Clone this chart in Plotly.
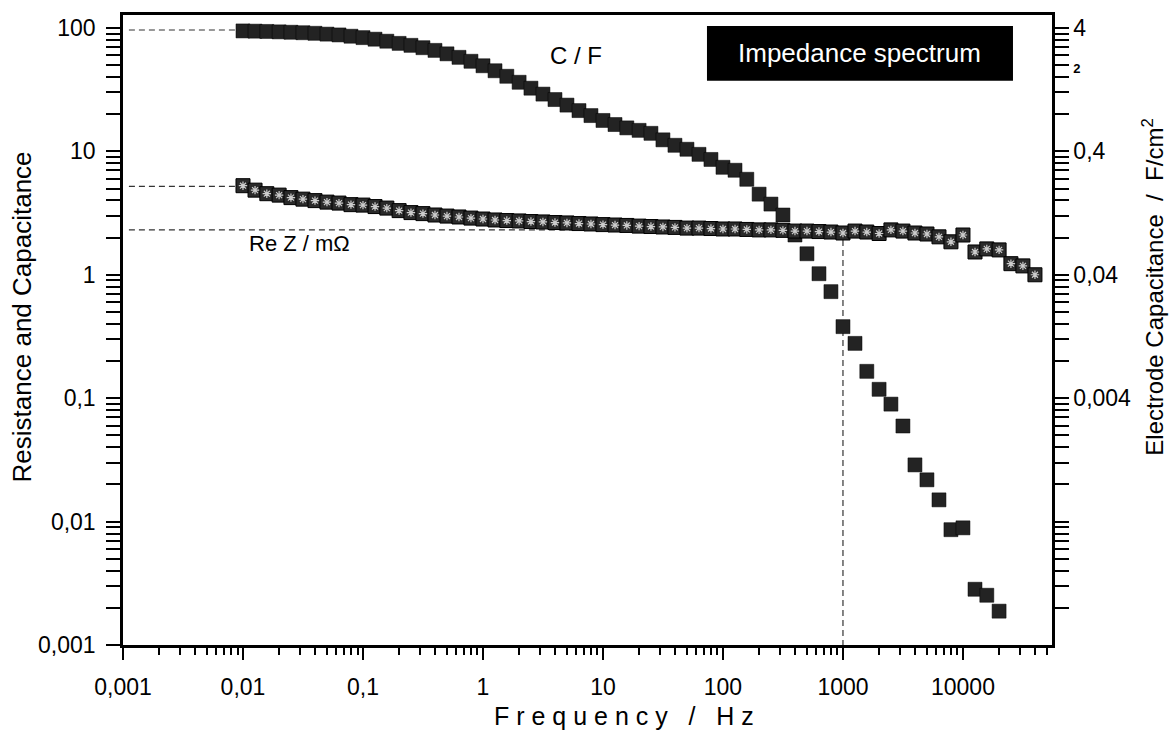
import math
import plotly.graph_objects as go

# ---------------- data ----------------
freq_hz = [0.01, 0.0126, 0.0158, 0.02, 0.0251, 0.0316, 0.0398, 0.0501, 0.0631, 0.0794,
           0.1, 0.126, 0.158, 0.2, 0.251, 0.316, 0.398, 0.501, 0.631, 0.794,
           1, 1.26, 1.58, 2, 2.51, 3.16, 3.98, 5.01, 6.31, 7.94,
           10, 12.6, 15.8, 20, 25.1, 31.6, 39.8, 50.1, 63.1, 79.4,
           100, 126, 158, 200, 251, 316, 398, 501, 631, 794,
           1000, 1260, 1580, 2000, 2510, 3160, 3980, 5010, 6310, 7940,
           10000, 12600, 15800, 20000, 25100, 31600, 39800]

cap_F = [94.6, 94.2, 93.7, 93.0, 92.3, 91.5, 90.5, 89.1, 87.8, 85.7,
         83.5, 81.1, 78.1, 75.0, 72.3, 69.2, 65.8, 61.7, 57.8, 53.7,
         49.4, 45.0, 40.6, 36.3, 32.5, 29.1, 26.3, 23.7, 21.4, 19.5,
         17.8, 16.5, 15.5, 14.8, 14.0, 12.4, 11.2, 10.4, 9.46, 8.6,
         7.43, 7.03, 5.94, 4.5, 3.74, 3.05, 2.1, 1.48, 1.02, 0.73,
         0.38, 0.278, 0.165, 0.118, 0.0895, 0.0595, 0.0288, 0.0218, 0.0150, 0.0086,
         0.0089, 0.00283, 0.00253, 0.00188]

rez_mohm = [5.27, 4.85, 4.54, 4.42, 4.22, 4.10, 3.99, 3.88, 3.81, 3.70,
            3.67, 3.57, 3.47, 3.31, 3.19, 3.13, 3.05, 2.99, 2.94, 2.88,
            2.83, 2.78, 2.75, 2.73, 2.70, 2.68, 2.65, 2.63, 2.60, 2.58,
            2.55, 2.53, 2.51, 2.48, 2.46, 2.44, 2.42, 2.39, 2.39, 2.37,
            2.35, 2.35, 2.33, 2.31, 2.31, 2.29, 2.26, 2.26, 2.24, 2.22,
            2.18, 2.26, 2.22, 2.16, 2.31, 2.26, 2.18, 2.14, 2.03, 1.85,
            2.10, 1.53, 1.62, 1.59, 1.23, 1.18, 1.00]

x_tick_vals = [0.001, 0.01, 0.1, 1, 10, 100, 1000, 10000]
x_tick_text = ["0,001", "0,01", "0,1", "1", "10", "100", "1000", "10000"]
y_tick_vals = [0.001, 0.01, 0.1, 1, 10, 100]
y_tick_text = ["0,001", "0,01", "0,1", "1", "10", "100"]
y2_tick_vals = [4, 2, 0.4, 0.04, 0.004, 0.0004]
y2_tick_text = ["4", "<span style='font-size:13px'><b>2</b></span>", "0,4", "0,04", "0,004", " "]

right_scale = 0.04          # electrode capacitance (F/cm²) = left value * 0.04
guide_levels = [96.3, 5.2, 2.31]
guide_start = 0.00112
guide_freq = 1000

# ---------------- axes geometry ----------------
x_range = [-3, 4.742]
y_range = [-3, 2.105]
y2_range = [y_range[0] + math.log10(right_scale), y_range[1] + math.log10(right_scale)]

def minor_list(lo, hi):
    out = []
    for n in range(int(math.floor(lo)) - 1, int(math.ceil(hi)) + 1):
        for m in range(2, 10):
            v = m * 10.0 ** n
            if lo <= math.log10(v) <= hi:
                out.append(v)
    return out

x_minor = minor_list(*x_range)
y_minor = minor_list(*y_range)
y2_minor = [v * right_scale for v in y_minor]

FONT = "Liberation Sans, Arial, Helvetica, sans-serif"

fig = go.Figure()

# dashed guide lines
for lvl, end in zip(guide_levels, [freq_hz[0], freq_hz[0], guide_freq]):
    fig.add_trace(go.Scatter(x=[guide_start, end], y=[lvl, lvl], mode="lines",
                             line=dict(color="#333", width=1.2, dash="6px,4px"),
                             hoverinfo="skip", showlegend=False))
fig.add_trace(go.Scatter(x=[guide_freq, guide_freq], y=[guide_levels[2], 0.001], mode="lines",
                         line=dict(color="#333", width=1.2, dash="6px,4px"),
                         hoverinfo="skip", showlegend=False))

# capacitance
fig.add_trace(go.Scatter(x=freq_hz[:len(cap_F)], y=cap_F, mode="markers", name="C / F",
                         marker=dict(symbol="square", size=14, color="#232323",
                                     line=dict(color="#000", width=0.5)),
                         showlegend=False))
# the same capacitance per cm² on the right axis (invisible; carries the right axis)
fig.add_trace(go.Scatter(x=freq_hz[:len(cap_F)], y=[c * right_scale for c in cap_F],
                         yaxis="y2", mode="markers", marker=dict(opacity=0, size=1),
                         hoverinfo="skip", showlegend=False))
# resistance
fig.add_trace(go.Scatter(x=freq_hz, y=rez_mohm, mode="markers", name="Re Z / mΩ",
                         marker=dict(symbol="square", size=14, color="#2a2a2a",
                                     line=dict(color="#000", width=1)),
                         showlegend=False))
fig.add_trace(go.Scatter(x=freq_hz, y=rez_mohm, mode="markers", hoverinfo="skip",
                         marker=dict(symbol="asterisk-open", size=7, color="#cccccc",
                                     line=dict(color="#cccccc", width=1.2)),
                         showlegend=False))

axis_common = dict(type="log", showgrid=False, zeroline=False, showline=True,
                   linecolor="black", linewidth=2.5, ticks="outside", tickcolor="black",
                   tickwidth=2, tickfont=dict(family=FONT, size=23, color="black"))

def ann(text, x, y, size, color="black", angle=0):
    return dict(text=text, xref="paper", yref="paper", x=x, y=y, xanchor="center",
                yanchor="middle", showarrow=False, textangle=angle,
                font=dict(family=FONT, size=size, color=color))

fig.update_layout(
    width=1171, height=730, autosize=False,
    margin=dict(l=123, r=119, t=12, b=85),
    plot_bgcolor="white", paper_bgcolor="white",
    font=dict(family=FONT, color="black"),
    xaxis=dict(axis_common, range=x_range, tickmode="array", tickvals=x_tick_vals,
               ticktext=x_tick_text, ticklen=12, ticklabelstandoff=8, mirror=True,
               minor=dict(tickmode="array", tickvals=x_minor, ticks="outside",
                          ticklen=7, tickwidth=2, tickcolor="#000000", showgrid=False)),
    yaxis=dict(axis_common, range=y_range, tickmode="array", tickvals=y_tick_vals,
               ticktext=y_tick_text, ticklen=14, ticklabelstandoff=6,
               minor=dict(tickmode="array", tickvals=y_minor, ticks="outside",
                          ticklen=14, tickwidth=2, tickcolor="#000000", showgrid=False)),
    yaxis2=dict(axis_common, range=y2_range, tickmode="array", tickvals=y2_tick_vals,
                ticktext=y2_tick_text, overlaying="y", side="right", anchor="x",
                ticklen=14, ticklabelstandoff=0,
                minor=dict(tickmode="array", tickvals=y2_minor, ticks="outside",
                           ticklen=14, tickwidth=2, tickcolor="#000000", showgrid=False)),
    shapes=[dict(type="rect", xref="paper", yref="paper", x0=0.6286, x1=0.958,
                 y0=0.8957, y1=0.9826, fillcolor="black", line=dict(width=0), layer="above")],
    annotations=[
        ann("Impedance spectrum", 0.7933, 0.94, 26, "white"),
        ann("C / F", 0.4876, 0.9352, 24),
        ann("Re Z / mΩ", 0.1905, 0.6367, 22),
        ann("Resistance and Capacitance", -0.1087, 0.52, 26, angle=-90),
        ann("Electrode Capacitance  /  F/cm<sup>2</sup>", 1.1087, 0.5687, 24, angle=-90),
        ann("F r e q u e n c y   /   H z", 0.539, -0.1122, 25),
    ],
)

fig.write_html("out.html")
